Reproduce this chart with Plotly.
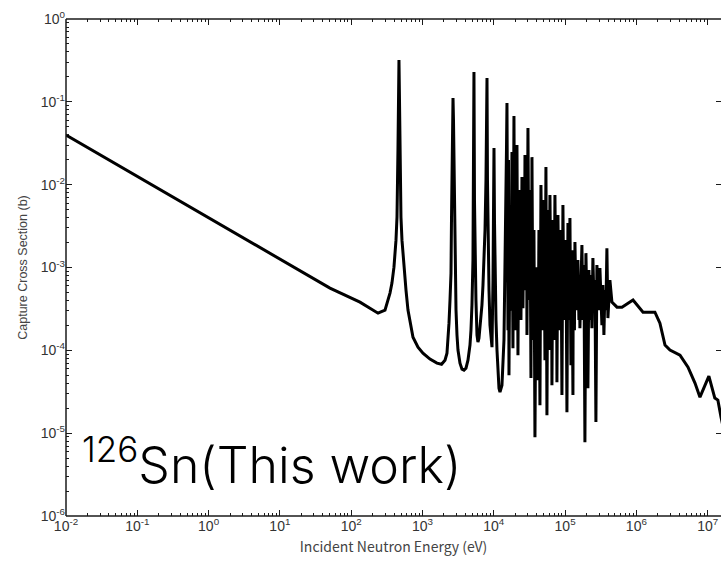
import plotly.graph_objects as go

# 126Sn capture cross section, split by energy region
# incident energy in eV, cross section in barns

# thermal 1/v region
thermal_e = [0.01, 1.445, 50.4, 132.8, 238]
thermal_s = [0.0397, 0.00335, 5.64e-4, 3.82e-4, 2.81e-4]

# isolated low-lying resonances
resolved_e = [
    298, 350, 373, 398, 425, 439, 453, 460.8, 468, 475.9, 483, 499, 515.8, 550,
    587, 626, 736, 865, 1016, 1274, 1596, 1850,
    2069, 2206, 2279, 2354, 2432, 2512, 2552, 2594, 2636, 2680, 2722, 2767, 2811,
    2857, 2953, 3047, 3147, 3357, 3581, 3819, 4074,
    4345, 4636, 4788, 4943, 5105, 5192, 5272, 5362, 5449, 5623, 5812, 5998,
    6199, 6615, 6823, 7055, 7289, 7534, 7774, 8035, 8159, 8292, 8570, 8846,
    9134, 9440, 9750, 9904, 10070, 10230, 10400, 10740, 11090, 11460, 11830,
]
resolved_s = [
    3.06e-4, 4.91e-4, 6.48e-4, 1.01e-3, 2.14e-3, 4.06e-3, 0.0262, 0.105, 0.320, 0.105, 0.0262, 4.06e-3, 2.14e-3, 1.01e-3,
    5.33e-4, 3.06e-4, 1.44e-4, 1.09e-4, 9.25e-5, 7.83e-5, 7.0e-5, 6.8e-5,
    7.61e-5, 9.25e-5, 1.26e-4, 2.13e-4, 4.04e-4, 8.55e-4, 3.74e-3, 0.0138, 0.0603, 0.111, 0.0603, 0.0138, 3.74e-3,
    8.55e-4, 3.06e-4, 1.53e-4, 1.01e-4, 7.0e-5, 5.93e-5, 5.77e-5, 6.1e-5,
    7.61e-5, 1.16e-4, 1.75e-4, 3.52e-4, 1.23e-3, 6.52e-3, 0.229, 6.52e-3, 1.23e-3, 4.04e-4, 1.53e-4, 1.26e-4,
    1.40e-4, 2.32e-4, 3.52e-4, 6.13e-4, 1.23e-3, 2.83e-3, 0.01136, 0.194, 0.01136, 2.14e-3, 5.33e-4, 2.01e-4,
    1.26e-4, 1.09e-4, 7.04e-4, 3.74e-3, 0.0277, 3.74e-3, 7.04e-4, 2.32e-4, 1.01e-4, 5.01e-5, 3.49e-5,
]

# dense resonance forest (rows of six points)
forest_e = [
    12220, 13030, 13900, 14590, 15070, 15310,
    15820, 16080, 16340, 16900, 17400, 17990,
    18580, 19190, 19820, 20470, 20810, 21150,
    21840, 22560, 22930, 23300, 24060, 24850,
    25670, 26510, 26940, 27380, 28280, 28740,
    29200, 30160, 31150, 32170, 33230, 33700,
    34000, 34320, 35440, 36600, 37800, 39040,
    39690, 40330, 41650, 42100, 42500, 43010,
    44420, 44900, 45300, 45880, 47390, 48170,
    48940, 50540, 52200, 52700, 53300, 53910,
    55680, 56200, 56900, 57510, 59390, 61340,
    63350, 64410, 65430, 66100, 66800, 67580,
    69790, 70500, 71300, 72080, 74450, 75680,
    76890, 79410, 82020, 83380, 84710, 87490,
    90360, 91200, 92300, 93320, 96380, 97980,
    99540, 102800, 106200, 107300, 108500, 109700,
    113300, 117000, 120800, 122000, 123500, 124800,
    128900, 130200, 131600, 133100, 135300, 137500,
    142000, 144300, 146600, 151400, 156400, 159000,
    161500, 172300, 178000, 183800, 189800, 192000,
    194000, 196100, 202500, 205800, 209100, 216000,
    223100, 230400, 237900, 245700, 253800, 262100,
    270700, 274000, 277000, 279600, 298200, 308000,
    328600, 339300, 350500, 362000, 373900, 386100,
    398800, 425400,
]
forest_s = [
    3.13e-5, 3.80e-5, 1.33e-4, 1.62e-3, 0.0262, 0.0967,
    1.75e-4, 0.0198, 5.01e-5, 0.005, 3.0e-4, 0.0248,
    1.06e-4, 0.0674, 1.75e-4, 0.0150, 4.04e-4, 0.0301,
    8.75e-5, 0.00861, 7.04e-4, 0.00652, 2.32e-4, 0.0124,
    3.23e-4, 0.00861, 9.30e-4, 0.0228, 5.33e-4, 0.01136,
    1.53e-4, 0.0483, 4.04e-4, 0.00861, 4.62e-5, 0.004,
    2.5e-4, 0.0215, 1.33e-4, 0.00283, 8.95e-6, 7.04e-4,
    7.61e-5, 1.01e-3, 4.36e-5, 0.002, 3.0e-4, 0.00283,
    2.18e-5, 0.004, 2.0e-4, 0.00989, 4.04e-4, 0.00493,
    1.75e-4, 0.00652, 7.61e-5, 0.003, 2.0e-4, 0.0163,
    1.65e-5, 0.003, 3.0e-4, 0.00493, 1.01e-4, 0.00748,
    4.04e-4, 0.00283, 3.80e-5, 0.002, 3.0e-4, 0.00374,
    1.33e-4, 0.004, 2.5e-4, 0.00748, 4.04e-4, 0.00214,
    4.13e-5, 0.00429, 4.04e-4, 0.00162, 1.75e-4, 0.00283,
    2.88e-5, 0.002, 3.0e-4, 0.00567, 2.32e-4, 0.00162,
    4.04e-4, 0.00214, 1.79e-5, 0.0015, 3.0e-4, 0.00344,
    2.32e-4, 0.00395, 6.62e-5, 0.0012, 3.0e-4, 0.00162,
    2.88e-5, 0.0012, 3.0e-4, 9.30e-4, 1.75e-4, 0.00203,
    4.04e-4, 8.10e-4, 3.06e-4, 0.00123, 2.32e-4, 6.13e-4,
    1.85e-4, 0.00187, 2.32e-4, 1.07e-3, 7.78e-6, 8.0e-4,
    2.5e-4, 1.49e-3, 3.06e-4, 7.04e-4, 3.49e-5, 9.30e-4,
    2.32e-4, 8.10e-4, 1.85e-4, 1.30e-3, 4.04e-4, 7.04e-4,
    1.36e-5, 6.0e-4, 3.0e-4, 1.07e-3, 3.06e-4, 9.83e-4,
    2.01e-4, 6.13e-4, 1.53e-4, 5.33e-4, 3.06e-4, 1.71e-3,
    2.45e-4, 7.04e-4,
]

# smooth high-energy region
fast_e = [
    453800, 534600, 628100, 897400, 1.24e6, 1.82e6, 2.14e6, 2.52e6, 2.96e6,
    4.09e6, 5.30e6, 6.64e6, 7.80e6, 1.04e7, 1.26e7, 1.39e7, 1.54e7, 1.81e7,
]
fast_s = [
    3.82e-4, 3.32e-4, 3.32e-4, 4.04e-4, 2.89e-4, 2.89e-4, 2.13e-4, 1.16e-4, 1.01e-4,
    8.75e-5, 6.26e-5, 4.02e-5, 2.72e-5, 4.88e-5, 2.65e-5, 2.51e-5, 1.56e-5, 8.0e-6,
]

x_decades = list(range(-2, 8))
y_decades = list(range(-6, 1))
x_tick_labels = ["10<sup>%d</sup>" % k for k in x_decades]
y_tick_labels = ["10<sup>%d</sup>" % k for k in y_decades]
label_text = "<sup>126</sup>Sn(This work)"

energy_ev = thermal_e + resolved_e + forest_e + fast_e
sigma_b = thermal_s + resolved_s + forest_s + fast_s
assert len(energy_ev) == len(sigma_b)

axis_color = "#1a1a1a"
tick_font = dict(family="Liberation Sans, Arial, sans-serif", size=14, color="#333333")


def minor_positions(decades):
    return [m * 10.0 ** k for k in decades[:-1] for m in range(2, 10)]


fig = go.Figure()
fig.add_trace(go.Scatter(
    x=energy_ev, y=sigma_b, mode="lines",
    line=dict(color="black", width=3),
    hoverinfo="x+y", showlegend=False,
))
# carrier trace so the right-hand tick axis is drawn
fig.add_trace(go.Scatter(
    x=[energy_ev[0]], y=[sigma_b[0]], yaxis="y2", mode="markers",
    marker=dict(opacity=0), hoverinfo="skip", showlegend=False,
))

base_axis = dict(
    type="log", showgrid=False, zeroline=False, showline=False,
    ticks="inside", ticklen=6, tickwidth=1, tickcolor=axis_color,
    tickfont=tick_font, tickmode="array",
)

fig.update_layout(
    xaxis=dict(
        range=[-2, 7.187],
        tickvals=[10.0 ** k for k in x_decades], ticktext=x_tick_labels,
        mirror="ticks",
        minor=dict(ticks="inside", ticklen=3, tickwidth=1, tickcolor=axis_color,
                   tickmode="array", tickvals=minor_positions(x_decades + [8]), showgrid=False),
        title=dict(text="Incident Neutron Energy (eV)",
                   font=dict(family="Noto Sans CJK JP, sans-serif", size=14, color="#444444"),
                   standoff=9),
        **base_axis,
    ),
    yaxis=dict(
        range=[-6, 0],
        tickvals=[10.0 ** k for k in y_decades], ticktext=y_tick_labels,
        mirror=False,
        minor=dict(ticks="inside", ticklen=3, tickwidth=1, tickcolor=axis_color,
                   tickmode="array", tickvals=minor_positions(y_decades), showgrid=False),
        title=dict(text="Capture Cross Section (b)",
                   font=dict(family="Liberation Sans, Arial, sans-serif", size=12.5, color="#444444"),
                   standoff=10),
        **base_axis,
    ),
    yaxis2=dict(
        type="log", range=[-6, 0], overlaying="y", side="right", anchor="x",
        showgrid=False, zeroline=False, showline=False, showticklabels=False,
        ticks="inside", ticklen=5, tickwidth=1, tickcolor=axis_color,
        tickmode="array", tickvals=[10.0 ** k for k in y_decades],
    ),
)

# frame: left, bottom and top spines
for x0, y0, x1, y1 in [(0, 0, 0, 1), (0, 0, 1, 0), (0, 1, 1, 1)]:
    fig.add_shape(type="line", xref="paper", yref="paper", x0=x0, y0=y0, x1=x1, y1=y1,
                  line=dict(color=axis_color, width=1.5))

fig.add_annotation(
    text=label_text, xref="paper", yref="paper", x=0.022, y=0.038,
    xanchor="left", yanchor="bottom", showarrow=False,
    font=dict(family="Inter, sans-serif", size=50, color="black", weight=300),
)

fig.update_layout(
    width=721, height=563,
    margin=dict(l=66, r=0, t=19, b=47),
    paper_bgcolor="white", plot_bgcolor="white",
)

fig.write_html("out.html")
